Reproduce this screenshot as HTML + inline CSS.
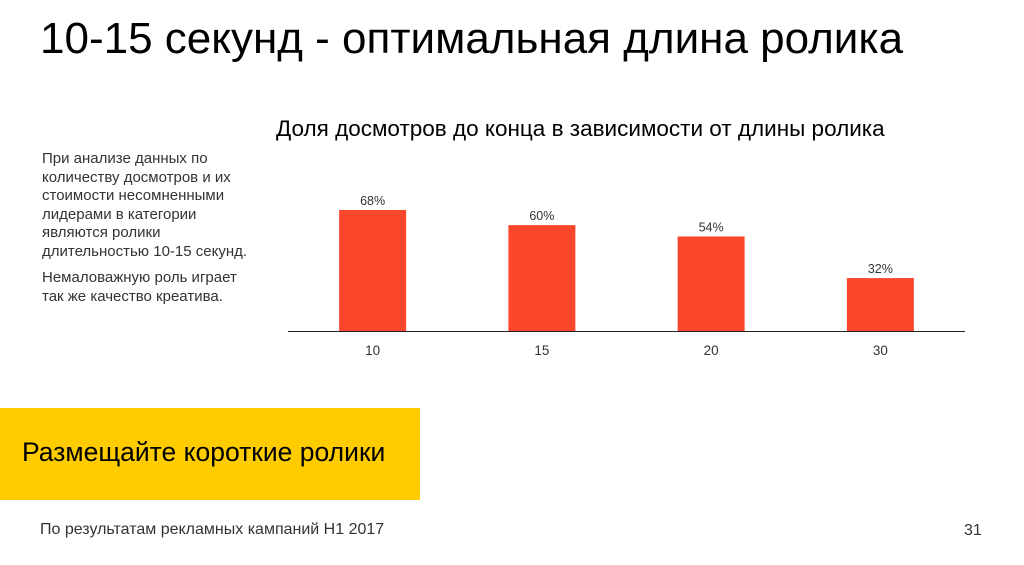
<!DOCTYPE html>
<html><head><meta charset="utf-8"><style>
body{margin:0;width:1024px;height:565px;background:#fff;font-family:"Liberation Sans","DejaVu Sans",sans-serif;position:relative;overflow:hidden}
.abs{position:absolute}
</style></head><body>
<div class="abs" style="left:40px;top:14px;font-size:44px;color:#000;white-space:nowrap">10-15 секунд - оптимальная длина ролика</div>
<div class="abs" style="left:42px;top:150px;width:240px;font-size:15px;line-height:18.5px;color:#333;white-space:nowrap">
<p style="margin:0 0 8px">При анализе данных по<br>количеству досмотров и их<br>стоимости несомненными<br>лидерами в категории<br>являются ролики<br>длительностью 10-15 секунд.</p>
<p style="margin:0">Немаловажную роль играет<br>так же качество креатива.</p></div>
<div class="abs" style="left:276px;top:116px;font-size:22.5px;color:#000;white-space:nowrap">Доля досмотров до конца в зависимости от длины ролика</div>
<svg class="abs" id="chart" style="left:0;top:0" width="1024" height="400"></svg>
<div class="abs" style="left:0;top:408px;width:420px;height:92px;background:#ffcc00"></div>
<div class="abs" style="left:22px;top:437px;font-size:26.5px;color:#000;white-space:nowrap">Размещайте короткие ролики</div>
<div class="abs" style="left:40px;top:521px;font-size:16px;color:#333;white-space:nowrap">По результатам рекламных кампаний H1 2017</div>
<div class="abs" style="left:964px;top:522px;font-size:16px;color:#333">31</div>
<script>
const categories=["10","15","20","30"];
const values=[68,60,54,32];
const labels=["68%","60%","54%","32%"];
const svg=document.getElementById('chart');
const NS='http://www.w3.org/2000/svg';
const base=331, x0=288, x1=965, vmin=4, vmax=68, hmax=121;
const band=(x1-x0)/categories.length;
function xs(i){return x0+band*(i+0.5);}
function ys(v){return base-(v-vmin)/(vmax-vmin)*hmax;}
const ax=document.createElementNS(NS,'line');
ax.setAttribute('x1',x0);ax.setAttribute('x2',x1);ax.setAttribute('y1',base+0.5);ax.setAttribute('y2',base+0.5);
ax.setAttribute('stroke','#222');ax.setAttribute('stroke-width','1');


svg.appendChild(ax);
values.forEach((v,i)=>{
  const r=document.createElementNS(NS,'rect');
  const cx=xs(i), y=ys(v);
  r.setAttribute('x',cx-33.5);r.setAttribute('width',67);r.setAttribute('y',y);r.setAttribute('height',base-y);
  r.setAttribute('fill','#fa472c');
  
  
  svg.appendChild(r);
  const t=document.createElementNS(NS,'text');
  t.setAttribute('x',cx);t.setAttribute('y',y-5);t.setAttribute('text-anchor','middle');
  t.setAttribute('font-size','12.5');t.setAttribute('fill','#333');t.textContent=labels[i];
  
  
  svg.appendChild(t);
  const c=document.createElementNS(NS,'text');
  c.setAttribute('x',cx);c.setAttribute('y',355);c.setAttribute('text-anchor','middle');
  c.setAttribute('font-size','13.5');c.setAttribute('fill','#333');c.textContent=categories[i];
  
  
  svg.appendChild(c);
});
</script>
</body></html>
